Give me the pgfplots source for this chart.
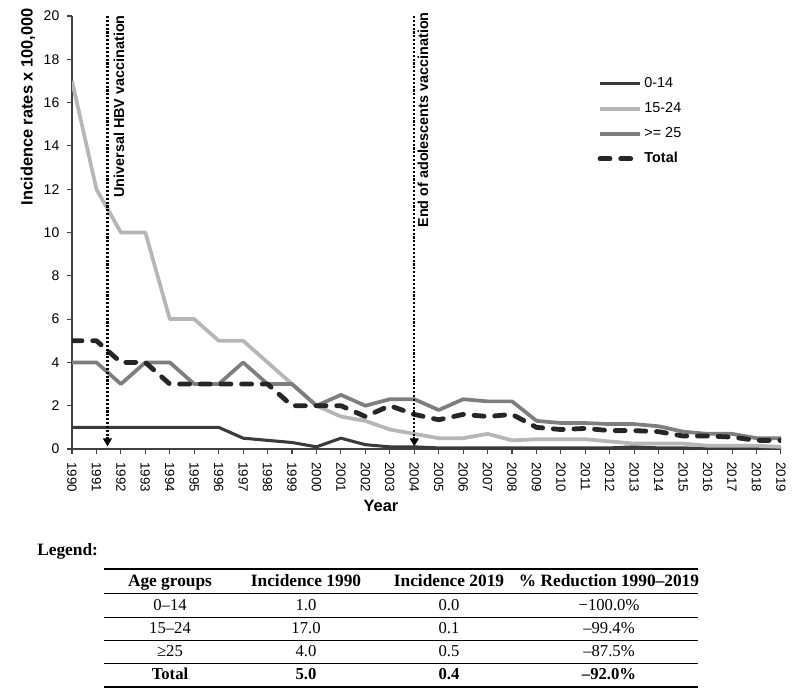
\documentclass[border=0pt]{standalone}
\usepackage{fontspec}
\setmainfont{Liberation Sans}
\newfontfamily\tabfont{Liberation Serif}
\usepackage{pgfplots}
\usepackage{pgfplotstable}
\pgfplotsset{compat=1.18}
\usetikzlibrary{arrows.meta}

\definecolor{cA}{HTML}{3A3A3A}
\definecolor{cB}{HTML}{B6B6B6}
\definecolor{cC}{HTML}{7E7E7E}
\definecolor{cD}{HTML}{262626}

\pgfplotstableread{
year a b c t
1990 1 17 4 5
1991 1 12 4 5
1992 1 10 3 4
1993 1 10 4 4
1994 1 6 4 3
1995 1 6 3 3
1996 1 5 3 3
1997 0.5 5 4 3
1998 0.4 4 3 3
1999 0.3 3 3 2
2000 0.1 2 2 2
2001 0.5 1.5 2.5 2
2002 0.2 1.3 2 1.5
2003 0.1 0.9 2.3 2
2004 0.1 0.7 2.3 1.6
2005 0.05 0.5 1.8 1.35
2006 0.05 0.5 2.3 1.6
2007 0.05 0.7 2.2 1.5
2008 0.05 0.4 2.2 1.6
2009 0.05 0.45 1.3 1.0
2010 0.05 0.45 1.2 0.9
2011 0.05 0.45 1.2 0.95
2012 0.05 0.35 1.15 0.85
2013 0.1 0.25 1.15 0.85
2014 0.05 0.25 1.05 0.8
2015 0.05 0.25 0.8 0.6
2016 0.02 0.15 0.7 0.6
2017 0.02 0.15 0.7 0.55
2018 0.02 0.15 0.5 0.4
2019 0 0.1 0.5 0.4
}\data

\begin{document}
\begin{tikzpicture}[x=0.75pt,y=-0.75pt]
\useasboundingbox (0,0) rectangle (796,694);
\begin{axis}[
  at={(54pt,-336.75pt)}, anchor=south west,
  scale only axis, width=531.75pt, height=324.75pt,
  xmin=1990, xmax=2019, ymin=0, ymax=20,
  axis lines=left,
  axis line style={-, draw=black!75, line width=0.8pt},
  xtick={1990,...,2019}, ytick={0,2,...,20},
  tick align=outside, major tick length=4pt,
  tick style={draw=black!75, line width=0.8pt},
  /pgf/number format/assume math mode=true,
  /pgf/number format/1000 sep={},
  xticklabel={\fontsize{10}{11}\selectfont\pgfmathprintnumber{\tick}},
  yticklabel={\fontsize{10.5}{11}\selectfont\pgfmathprintnumber{\tick}},
  x tick label style={rotate=-90, anchor=west},
  xticklabel shift=2.5pt,
  yticklabel shift=2pt,
  legend style={at={(axis description cs:0.741,0.864)}, anchor=north west,
    draw=none, fill=none, inner sep=0pt, row sep=5.75pt,
    font=\fontsize{10.8}{12}\selectfont,
    nodes={inner sep=1.5pt, text height=8pt, text depth=2pt}},
  legend cell align=left,
  legend image code/.code={\draw[#1] (0pt,0pt) -- (30pt,0pt);},
]
\addplot[cA, line width=2.3pt, line join=round] table[x=year,y=a]{\data};
\addlegendentry{0-14}
\addplot[cB, line width=2.8pt, line join=round] table[x=year,y=b]{\data};
\addlegendentry{15-24}
\addplot[cC, line width=2.8pt, line join=round] table[x=year,y=c]{\data};
\addlegendentry{>= 25}
\addplot[cD, line width=3.6pt, line cap=round, line join=round, dash pattern=on 7.5pt off 8pt] table[x=year,y=t]{\data};
\addlegendentry{\textbf{Total}}
\addplot[forget plot, black, line width=1.8pt, dash pattern=on 1.6pt off 1.3pt, -{Triangle[length=6pt,width=6.5pt,sep=0pt]}]
  coordinates {(1991.45,20) (1991.45,0.12)};
\addplot[forget plot, black, line width=1.8pt, dash pattern=on 1.6pt off 1.3pt, -{Triangle[length=6pt,width=6.5pt,sep=0pt]}]
  coordinates {(2004,20) (2004,0.12)};
\end{axis}
\node[rotate=90, anchor=east, inner sep=0pt, font=\bfseries\fontsize{12.3}{14}\selectfont] at (28,8) {Incidence rates x 100,000};
\node[rotate=90, anchor=east, inner sep=0pt, font=\bfseries\fontsize{10.8}{13}\selectfont] at (119,15) {Universal HBV vaccination};
\node[rotate=90, anchor=east, inner sep=0pt, font=\bfseries\fontsize{10.8}{13}\selectfont] at (423,12) {End of adolescents vaccination};
\node[font=\bfseries\fontsize{12.3}{14}\selectfont] at (381,506) {Year};
% table
\begin{scope}[every node/.style={anchor=mid, inner sep=0pt}]
\node[anchor=mid west, font=\tabfont\bfseries\fontsize{13}{15}\selectfont] at (37,552) {Legend:};
\draw[line width=1.5pt] (104,569.3) -- (698,569.3);
\draw[line width=0.75pt] (104,593) -- (698,593);
\draw[line width=0.75pt] (104,617) -- (698,617);
\draw[line width=0.75pt] (104,640) -- (698,640);
\draw[line width=0.75pt] (104,663) -- (698,663);
\draw[line width=1.5pt] (104,687) -- (698,687);
\begin{scope}[font=\tabfont\bfseries\fontsize{13}{15}\selectfont]
\node at (170,583) {Age groups};
\node at (306,583) {Incidence 1990};
\node at (449,583) {Incidence 2019};
\node at (609,583) {\% Reduction 1990–2019};
\end{scope}
\begin{scope}[font=\tabfont\fontsize{12.5}{15}\selectfont]
\node at (170,607) {0–14};
\node at (306,607) {1.0};
\node at (449,607) {0.0};
\node at (609,607) {−100.0\%};
\node at (170,630) {15–24};
\node at (306,630) {17.0};
\node at (449,630) {0.1};
\node at (609,630) {–99.4\%};
\node at (170,653) {≥25};
\node at (306,653) {4.0};
\node at (449,653) {0.5};
\node at (609,653) {–87.5\%};
\end{scope}
\begin{scope}[font=\tabfont\bfseries\fontsize{12.5}{15}\selectfont]
\node at (170,676) {Total};
\node at (306,676) {5.0};
\node at (449,676) {0.4};
\node at (609,676) {–92.0\%};
\end{scope}
\end{scope}
\end{tikzpicture}
\end{document}
